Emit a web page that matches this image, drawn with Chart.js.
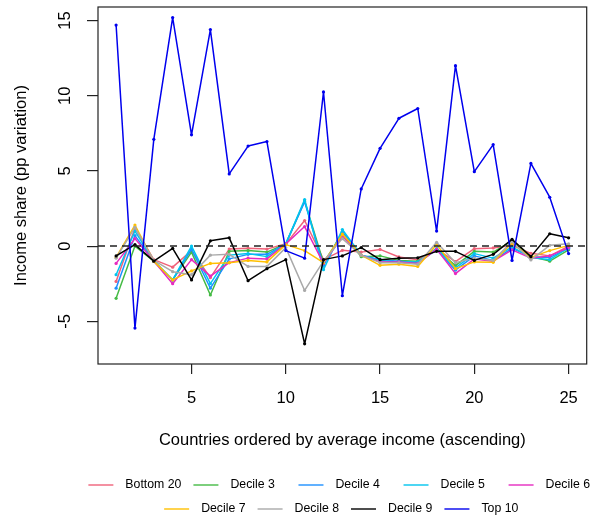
<!DOCTYPE html>
<html>
<head>
<meta charset="utf-8">
<script src="https://cdn.jsdelivr.net/npm/chart.js@4.4.1/dist/chart.umd.min.js"></script>
<style>
  body { margin: 0; background: #fff; }
</style>
</head>
<body>
<canvas id="mycanvas" width="593" height="522"></canvas>
<script>
// countries 1..25, ordered by average income
var countries = [1, 2, 3, 4, 5, 6, 7, 8, 9, 10, 11, 12, 13, 14, 15, 16, 17, 18, 19, 20, 21, 22, 23, 24, 25];
var xTicks = [5, 10, 15, 20, 25];
var yTicks = [-5, 0, 5, 10, 15];

var seriesNames = ["Bottom 20", "Decile 3", "Decile 4", "Decile 5", "Decile 6", "Decile 7", "Decile 8", "Decile 9", "Top 10"];

var bottom20 = [-2.35, 1.2, -0.9, -1.4, -0.3, -2.1, -0.2, -0.15, -0.2, 0.15, 1.7, -0.9, -0.28, -0.4, -0.22, -0.72, -0.9, -0.2, -1.03, -0.17, -0.12, 0.05, -0.48, -0.65, 0.0];
var decile3 = [-3.47, 0.0, -1.0, -2.25, -0.4, -3.25, -0.35, -0.3, -0.4, 0.15, 3.0, -1.1, 0.8, -0.7, -0.65, -0.95, -1.0, -0.2, -1.3, -0.35, -0.4, 0.35, -0.7, -1.0, -0.25];
var decile4 = [-2.8, 0.7, -1.0, -2.25, -0.2, -2.8, -0.85, -0.55, -0.55, 0.15, 2.95, -1.3, 0.95, -0.6, -0.9, -1.0, -1.1, -0.25, -1.6, -0.65, -0.95, -0.15, -0.7, -0.75, -0.15];
var decile5 = [-1.9, 1.0, -1.0, -2.25, 0.0, -2.5, -0.6, -0.5, -0.7, 0.15, 3.1, -1.57, 1.1, -0.6, -0.95, -1.05, -1.05, -0.15, -1.45, -0.5, -0.8, -0.05, -0.75, -0.9, -0.1];
var decile6 = [-1.15, 0.5, -1.0, -2.5, -0.9, -2.0, -1.1, -0.8, -0.85, 0.15, 1.3, -1.15, 0.65, -0.6, -1.05, -1.05, -1.15, -0.2, -1.83, -0.85, -1.0, -0.25, -0.8, -0.65, -0.1];
var decile7 = [-0.75, 1.4, -1.0, -2.25, -1.65, -1.15, -1.1, -0.95, -1.05, 0.1, -0.3, -1.1, 0.8, -0.6, -1.28, -1.2, -1.35, 0.1, -1.5, -1.05, -1.08, 0.2, -0.75, -0.3, 0.05];
var decile8 = [-0.8, 1.25, -0.95, -1.7, -1.9, -0.6, -0.55, -1.35, -1.35, -0.1, -2.95, -1.0, 0.5, -0.6, -1.1, -1.1, -1.2, 0.25, -1.1, -0.8, -0.95, 0.3, -0.92, 0.05, 0.15];
var decile9 = [-0.65, 0.1, -1.0, -0.15, -2.25, 0.35, 0.55, -2.3, -1.5, -0.9, -6.5, -0.9, -0.65, -0.1, -0.9, -0.8, -0.78, -0.35, -0.35, -0.95, -0.55, 0.45, -0.7, 0.82, 0.55];
var top10 = [14.7, -5.45, 7.1, 15.2, 7.4, 14.4, 4.8, 6.65, 6.95, -0.3, -0.8, 10.25, -3.3, 3.8, 6.5, 8.5, 9.15, 1.0, 12.0, 4.95, 6.75, -0.95, 5.5, 3.25, -0.5];

var seriesData = [bottom20, decile3, decile4, decile5, decile6, decile7, decile8, decile9, top10];
var seriesColors = ["#f0627a", "#45bb45", "#1e90ff", "#00c5ee", "#e62bc0", "#ffc000", "#a9a9a9", "#000000", "#0000ee"];
var legendRows = [[0, 1, 2, 3, 4], [5, 6, 7, 8]];

var FONT = "'Liberation Sans', Arial, sans-serif";

var datasets = [];
for (var i in seriesNames) {
  datasets.push({
    label: seriesNames[i],
    data: seriesData[i],
    borderColor: seriesColors[i],
    backgroundColor: seriesColors[i],
    pointBackgroundColor: seriesColors[i],
    pointBorderWidth: 0,
    pointRadius: 1.6,
    borderWidth: 1.5,
    borderJoinStyle: 'round',
    fill: false,
    tension: 0,
    order: seriesNames.length - i
  });
}

// R-like extras: box, dashed zero line, rotated y labels, legend
var rStyle = {
  id: 'rStyle',
  afterDatasetsDraw: function(chart) {
    var ctx = chart.ctx, a = chart.chartArea;
    var y0 = chart.scales.y.getPixelForValue(0);
    ctx.save();
    ctx.setLineDash([7, 5]);
    ctx.lineWidth = 1.5;
    ctx.strokeStyle = "#222";
    ctx.beginPath();
    ctx.moveTo(a.left, y0);
    ctx.lineTo(a.right, y0);
    ctx.stroke();
    ctx.restore();
  },
  afterDraw: function(chart) {
    var ctx = chart.ctx, a = chart.chartArea, ys = chart.scales.y;
    ctx.save();
    ctx.strokeStyle = "#222";
    ctx.lineWidth = 1.2;
    ctx.strokeRect(a.left, a.top, a.right - a.left, a.bottom - a.top);

    // y tick labels, rotated like R's default
    ctx.fillStyle = "#000";
    ctx.font = "16.5px " + FONT;
    ctx.textAlign = "center";
    ctx.textBaseline = "middle";
    for (var k = 0; k < yTicks.length; k++) {
      ctx.save();
      ctx.translate(a.left - 33, ys.getPixelForValue(yTicks[k]));
      ctx.rotate(-Math.PI / 2);
      ctx.fillText(String(yTicks[k]), 0, 0);
      ctx.restore();
    }

    // legend: one row of equal-width columns per line, like R's horiz legend
    ctx.font = "12.3px " + FONT;
    ctx.textAlign = "left";
    var lineW = 25, gap = 12;
    var rowY = [485, 509];
    var centerX = 351;
    for (var r = 0; r < legendRows.length; r++) {
      var row = legendRows[r];
      var maxW = 0;
      for (var j = 0; j < row.length; j++) {
        maxW = Math.max(maxW, ctx.measureText(seriesNames[row[j]]).width);
      }
      var colW = lineW + gap + maxW + gap;
      var x = centerX - row.length * colW / 2;
      for (var j = 0; j < row.length; j++) {
        var idx = row[j];
        ctx.strokeStyle = seriesColors[idx];
        ctx.lineWidth = 1.4;
        ctx.beginPath();
        ctx.moveTo(x, rowY[r]);
        ctx.lineTo(x + lineW, rowY[r]);
        ctx.stroke();
        ctx.fillStyle = "#000";
        ctx.fillText(seriesNames[idx], x + lineW + gap, rowY[r]);
        x += colW;
      }
    }
    ctx.restore();
  }
};

var ctx = document.getElementById("mycanvas");

var LineGraph = new Chart(ctx, {
  type: 'line',
  data: { labels: countries, datasets: datasets },
  plugins: [rStyle],
  options: {
    responsive: false,
    animation: false,
    layout: { padding: { left: 0, right: 6, top: 7, bottom: 60 } },
    plugins: { legend: { display: false }, tooltip: { enabled: false } },
    scales: {
      x: {
        type: 'linear',
        min: 0.04,
        max: 25.96,
        afterBuildTicks: function(scale) { scale.ticks = xTicks.map(function(v) { return { value: v }; }); },
        afterFit: function(scale) { scale.height = 98; },
        border: { display: false },
        grid: { drawOnChartArea: false, drawTicks: true, tickLength: 10, color: "#222", lineWidth: 1.2 },
        ticks: { color: "#000", font: { family: FONT, size: 16.5 }, padding: 15, maxRotation: 0, autoSkip: false },
        title: { display: true, text: "Countries ordered by average income (ascending)", color: "#000", font: { family: FONT, size: 16.5 }, padding: { top: 0, bottom: 12 } }
      },
      y: {
        min: -7.84,
        max: 15.9,
        afterBuildTicks: function(scale) { scale.ticks = yTicks.map(function(v) { return { value: v }; }); },
        afterFit: function(scale) { scale.width = 98; },
        border: { display: false },
        grid: { drawOnChartArea: false, drawTicks: true, tickLength: 11, color: "#222", lineWidth: 1.2 },
        ticks: { display: false },
        title: { display: true, text: "Income share (pp variation)", color: "#000", font: { family: FONT, size: 16.5 }, padding: { top: 12, bottom: 0 } }
      }
    }
  }
});
</script>
</body>
</html>
